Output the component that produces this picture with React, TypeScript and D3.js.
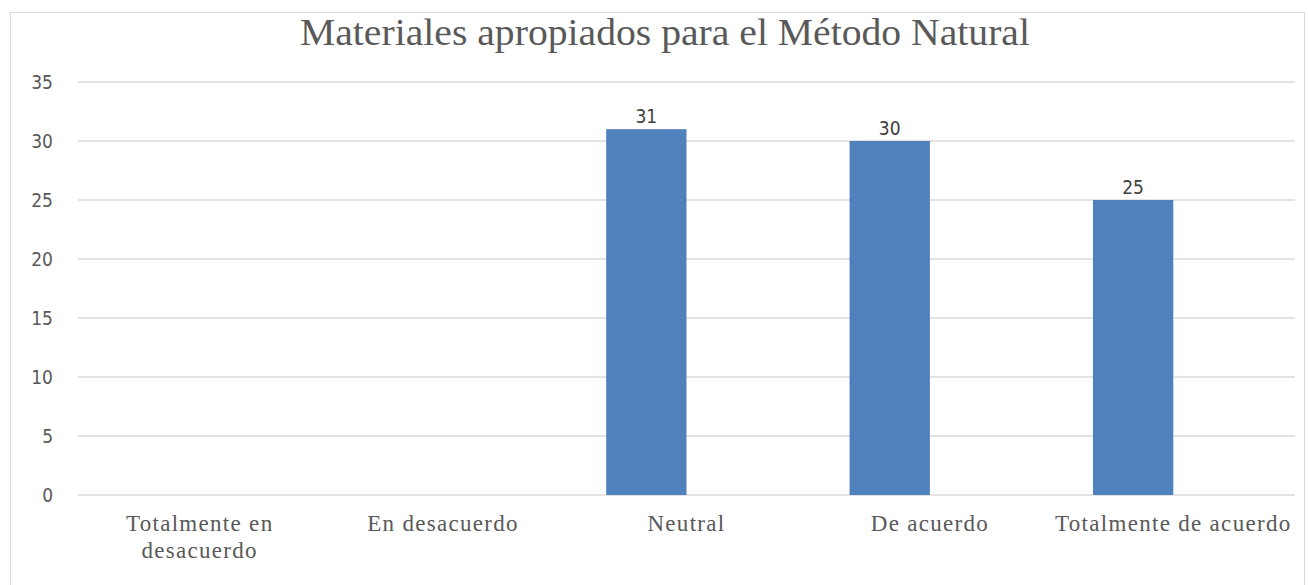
import React, { useEffect, useRef } from 'react';
import * as d3 from 'd3';

const categories = [
  'Totalmente en desacuerdo',
  'En desacuerdo',
  'Neutral',
  'De acuerdo',
  'Totalmente de acuerdo',
];
const values: (number | null)[] = [null, null, 31, 30, 25];
const yTicks = [0, 5, 10, 15, 20, 25, 30, 35];
const categoryLines: string[][] = [
  ['Totalmente en', 'desacuerdo'],
  ['En desacuerdo'],
  ['Neutral'],
  ['De acuerdo'],
  ['Totalmente de acuerdo'],
];
const title = 'Materiales apropiados para el Método Natural';

const W = 1308;
const H = 585;

export default function App() {
  const svgRef = useRef<SVGSVGElement>(null);

  useEffect(() => {
    if (!svgRef.current) return;
    const svg = d3.select(svgRef.current);
    svg.selectAll('*').remove();

    const left = 78, right = 1295, top = 82, bottom = 495;

    // chart frame
    svg.append('rect')
      .attr('x', 10.5).attr('y', 12.5)
      .attr('width', W - 14).attr('height', H)
      .attr('fill', 'white')
      .attr('stroke', '#d9d9d9');

    svg.append('text')
      .attr('x', 665).attr('y', 45)
      .attr('text-anchor', 'middle')
      .attr('textLength', 730)
      .attr('lengthAdjust', 'spacingAndGlyphs')
      .style('font-family', '"Liberation Serif", "DejaVu Serif", serif')
      .style('font-size', '37px')
      .style('fill', '#595959')
      .text(title);

    const y = d3.scaleLinear().domain([0, 35]).range([bottom, top]);
    const x = d3.scaleBand<string>().domain(categories).range([left, right]);

    const g = svg.append('g');

    // gridlines
    g.selectAll('line.grid')
      .data(yTicks)
      .join('line')
      .attr('class', 'grid')
      .attr('x1', left).attr('x2', right)
      .attr('y1', d => y(d)).attr('y2', d => y(d))
      .attr('stroke', '#e3e3e3')
      .attr('stroke-width', 2);

    // y tick labels
    g.selectAll('text.ytick')
      .data(yTicks)
      .join('text')
      .attr('class', 'ytick')
      .attr('x', 53).attr('y', d => y(d))
      .attr('dy', '0.35em')
      .attr('text-anchor', 'end')
      .style('font-family', '"Liberation Sans Narrow", "DejaVu Sans Condensed", sans-serif')
      .style('font-stretch', 'condensed')
      .style('font-size', '19px')
      .style('fill', '#595959')
      .text(d => d);

    // bars sit to the left of each category centre
    const barW = x.bandwidth() * 0.33;
    const data = categories.map((c, i) => ({ c, v: values[i] })).filter(d => d.v != null) as { c: string; v: number }[];

    g.selectAll('rect.bar')
      .data(data)
      .join('rect')
      .attr('class', 'bar')
      .attr('x', d => (x(d.c) as number) + x.bandwidth() / 2 - barW)
      .attr('y', d => y(d.v))
      .attr('width', barW)
      .attr('height', d => bottom - y(d.v))
      .attr('fill', '#4f81bd');

    g.selectAll('text.val')
      .data(data)
      .join('text')
      .attr('class', 'val')
      .attr('x', d => (x(d.c) as number) + x.bandwidth() / 2 - barW / 2)
      .attr('y', d => y(d.v) - 6)
      .attr('text-anchor', 'middle')
      .style('font-family', '"Liberation Sans Narrow", "DejaVu Sans Condensed", sans-serif')
      .style('font-stretch', 'condensed')
      .style('font-size', '19px')
      .style('fill', '#404040')
      .text(d => d.v);

    // category labels
    const cl = g.selectAll('text.cat')
      .data(categories)
      .join('text')
      .attr('class', 'cat')
      .attr('x', d => (x(d) as number) + x.bandwidth() / 2)
      .attr('y', 531)
      .attr('text-anchor', 'middle')
      .style('font-family', '"Liberation Serif", serif')
      .style('font-size', '23px')
      .style('letter-spacing', '1.3px')
      .style('fill', '#595959');
    cl.each(function (_d, i) {
      const t = d3.select(this);
      categoryLines[i].forEach((line, j) => {
        t.append('tspan')
          .attr('x', (x(categories[i]) as number) + x.bandwidth() / 2)
          .attr('dy', j === 0 ? 0 : 27)
          .text(line);
      });
    });
  }, []);

  return (
    <svg
      ref={svgRef}
      width={W}
      height={H}
      style={{ position: 'absolute', left: 0, top: 0, background: 'white' }}
    />
  );
}
